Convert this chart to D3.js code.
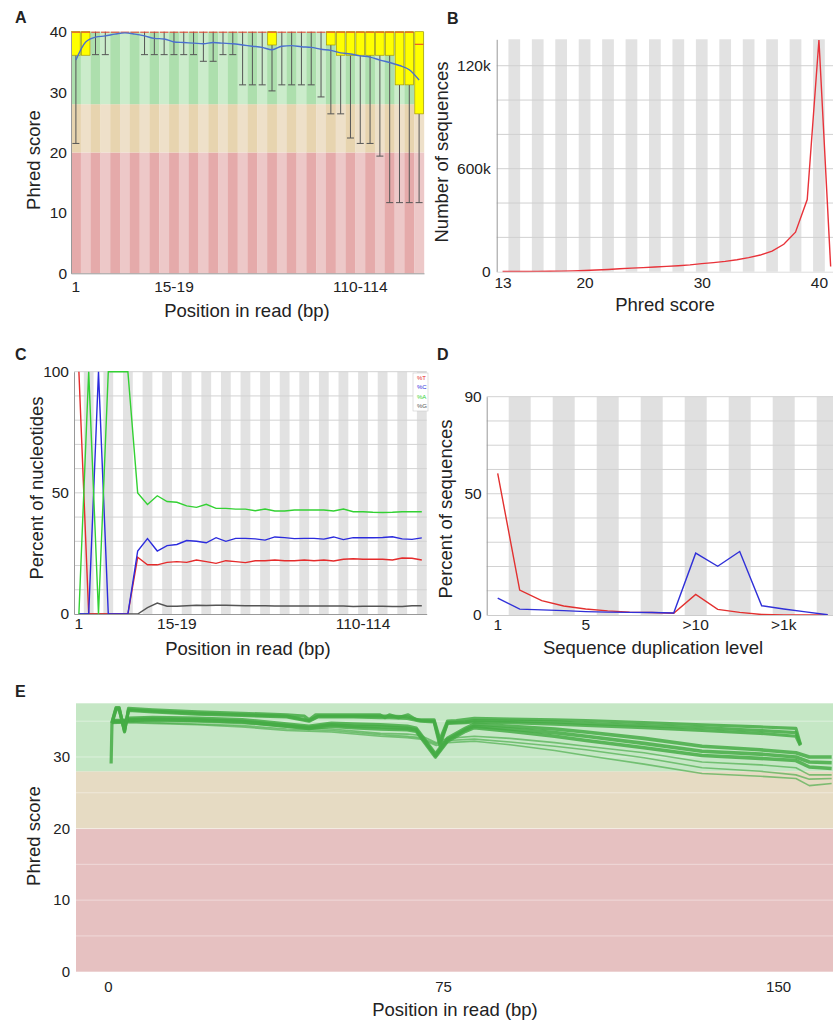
<!DOCTYPE html>
<html>
<head>
<meta charset="utf-8">
<script src="https://cdn.jsdelivr.net/npm/d3@7"></script>
<style>
body { margin: 0; background: #fff; }
text { font-family: "Liberation Sans", Arial, sans-serif; fill: #222; }
</style>
</head>
<body>
<svg id="fig" width="833" height="1022"></svg>
<script>
// ---------- data ----------
// A: per base quality (36 bins)
var posLabels = ["1", "2", "3", "4", "5", "6", "7", "8", "9", "10-14", "15-19", "20-24", "25-29",
    "30-34", "35-39", "40-44", "45-49", "50-54", "55-59", "60-64", "65-69", "70-74", "75-79",
    "80-84", "85-89", "90-94", "95-99", "100-104", "105-109", "110-114", "115-119", "120-124",
    "125-129", "130-134", "135-139", "140-144"];
var qLow = [21.5, 36.2, 36.2, 36.2, 40, 40, 40, 36.2, 36.2, 36.2, 36.2, 36.2, 36.2, 35.1, 35.1, 36.2,
    36.2, 31.2, 31.2, 31.2, 30.2, 31.2, 31.2, 31.2, 31.2, 29.2, 26.4, 26.4, 22.4, 21.5, 21.5, 19.4,
    11.7, 11.7, 11.7, 11.7];
var qQ1 = [36.1, 36.1, 40, 40, 40, 40, 40, 40, 40, 40, 40, 40, 40, 40, 40, 40, 40, 40, 40, 40, 37.8,
    40, 40, 40, 40, 40, 37.8, 36.1, 36.1, 36.1, 36.1, 36.1, 36.1, 31.2, 31.2, 26.4];
var qQ3 = [40, 40, 40, 40, 40, 40, 40, 40, 40, 40, 40, 40, 40, 40, 40, 40, 40, 40, 40, 40, 40, 40, 40,
    40, 40, 40, 40, 40, 40, 40, 40, 40, 40, 40, 40, 40];
var qMedian = [40, 40, 40, 40, 40, 40, 40, 40, 40, 40, 40, 40, 40, 40, 40, 40, 40, 40, 40, 40, 40, 40,
    40, 40, 40, 40, 40, 40, 40, 40, 40, 40, 40, 40, 40, 38];
var qMean = [35.3, 38.3, 39.1, 39.3, 39.6, 39.8, 39.6, 39.3, 38.9, 38.8, 38.3, 38.2, 38.1, 38.0, 38.2,
    38.1, 38.0, 37.8, 37.6, 37.4, 37.0, 37.6, 37.7, 37.5, 37.4, 37.1, 36.9, 36.5, 36.3, 36.0, 35.8,
    35.3, 34.9, 34.4, 33.7, 32.0];
var qZones = [
    { lo: 0, hi: 20, dark: "#e5aaaa", light: "#edc8c8" },
    { lo: 20, hi: 28, dark: "#e7d4af", light: "#eee0c9" },
    { lo: 28, hi: 40, dark: "#addfad", light: "#cbeccb" }
];
var aTickIdx = [0, 10, 29];

// B: per sequence quality
var bScores = [13, 14, 15, 16, 17, 18, 19, 20, 21, 22, 23, 24, 25, 26, 27, 28, 29, 30, 31, 32, 33, 34,
    35, 36, 37, 38, 39, 40, 41];
var bCounts = [100, 100, 150, 200, 250, 350, 500, 700, 950, 1300, 1700, 2100, 2400, 2700, 3100, 3500,
    4000, 4700, 5300, 6000, 7000, 8200, 9700, 12000, 16000, 23000, 42000, 135000, 3000];
var bYTicks = [0, 60000, 120000];
var bYText = ["0", "600k", "120k"];
var bXTicks = [13, 20, 30, 40];

// C: per base sequence content
var cT = [100, 0, 0, 0, 0, 0, 23.4, 20.3, 20.3, 21.3, 21.6, 21.3, 22.3, 21.6, 20.9, 22.0, 21.6, 21.2,
    22.0, 22.0, 22.3, 22.0, 22.0, 22.3, 22.0, 22.3, 21.9, 22.6, 22.8, 22.6, 22.6, 22.6, 22.3, 23.1, 23.0, 22.3];
var cC = [0, 0, 100, 0, 0, 0, 26.0, 31.1, 26.0, 28.2, 28.7, 30.3, 30.0, 29.4, 31.5, 30.0, 31.2, 31.2,
    31.0, 30.5, 31.8, 31.5, 31.1, 31.2, 31.2, 30.9, 31.8, 30.7, 31.5, 31.5, 31.5, 31.6, 31.9, 31.0, 30.8, 31.4];
var cA = [0, 100, 0, 100, 100, 100, 50.0, 45.2, 48.8, 46.4, 46.1, 44.6, 44.0, 45.3, 43.6, 43.6, 43.3,
    43.3, 42.6, 43.3, 42.5, 42.5, 42.9, 42.9, 42.9, 42.9, 42.5, 43.3, 42.2, 42.2, 42.0, 41.9, 42.0, 42.2, 42.2, 42.2];
var cG = [0, 0, 0, 0, 0, 0, 0, 2.6, 4.5, 3.2, 3.2, 3.4, 3.6, 3.5, 3.6, 3.6, 3.5, 3.4, 3.4, 3.4, 3.3,
    3.3, 3.3, 3.3, 3.3, 3.3, 3.3, 3.3, 3.1, 3.2, 3.2, 3.2, 3.1, 3.1, 3.4, 3.4];
var cNames = ["%T", "%C", "%A", "%G"];
var cColors = ["#e52b2b", "#2b2bdd", "#33d133", "#555555"];

// D: sequence duplication levels
var dLabels = ["1", "2", "3", "4", "5", "6", "7", "8", "9", ">10", ">50", ">100", ">500", ">1k", ">5k", ">10k"];
var dDedup = [58.4, 10.3, 5.9, 3.7, 2.5, 1.7, 1.2, 1.0, 0.7, 8.5, 2.3, 1.1, 0.2, 0.05, 0.05, 0.0];
var dTotal = [7.0, 2.4, 2.1, 1.8, 1.4, 1.2, 1.1, 1.0, 0.8, 25.5, 20.1, 26.2, 3.8, 2.5, 1.3, 0.1];
var dTickIdx = [0, 4, 9, 13];

// E: mean quality per position, several samples ([bp, phred])
var eU1 = [[0.7, 29.1], [0.9, 34.9], [1.8, 36.9], [2.5, 36.9], [3.7, 33.5], [4.6, 36.8], [10, 36.6], [20, 36.3],
    [30, 36.1], [40, 35.9], [44, 35.7], [45, 35.2], [46.5, 35.9], [55, 35.9], [60.8, 35.9], [62, 35.5],
    [63, 35.9], [65, 35.5], [67.2, 35.9], [69, 35.2], [73, 35.2], [74.3, 32.4], [76, 35.0], [78, 35.1],
    [82, 35.4], [90, 35.3], [100, 35.2], [107, 35.1], [120, 34.8], [133, 34.5], [146, 34.2], [154, 34.0], [155, 31.8]];
var eU3 = [[0.9, 34.8], [1.8, 36.8], [2.5, 36.8], [3.7, 33.6], [4.6, 36.6], [10, 36.4], [20, 36.1], [30, 35.9],
    [40, 35.7], [45, 35.1], [47, 35.7], [55, 35.7], [61, 35.7], [63, 35.7], [67, 35.6], [70, 35.1], [73, 35.0],
    [74.3, 32.0], [76, 34.8], [80, 34.9], [82, 35.1], [90, 35.0], [100, 34.9], [107, 34.7], [120, 34.4],
    [133, 34.1], [146, 33.7], [154, 33.4], [155, 31.7]];
var eU2 = [[0.9, 34.7], [1.8, 36.6], [2.5, 36.6], [3.7, 33.8], [4.6, 36.5], [10, 36.3], [20, 36.0], [30, 35.8],
    [40, 35.6], [45, 35.0], [47, 35.6], [55, 35.6], [61, 35.5], [63, 35.5], [67, 35.4], [70, 35.0], [73, 34.9],
    [74.3, 31.6], [76, 34.7], [80, 34.8], [82, 34.9], [90, 34.8], [100, 34.6], [107, 34.4], [120, 34.1],
    [133, 33.7], [146, 33.3], [154, 32.9], [155, 31.6]];
var eM1 = [[0.9, 35.1], [3.7, 35.1], [4.6, 35.4], [10, 35.5], [20, 35.4], [30, 35.2], [40, 34.6], [45, 34.3],
    [50, 34.7], [55, 34.6], [61, 34.5], [67, 34.3], [69, 34.0], [73.3, 30.4], [76, 32.6], [80, 34.0], [82, 34.6],
    [90, 34.3], [100, 33.9], [107, 33.5], [120, 32.6], [133, 31.5], [146, 31.0], [154, 30.6], [157, 30.0], [162, 30.0]];
var eM3 = [[0.9, 35.0], [3.7, 35.0], [4.6, 35.2], [10, 35.3], [20, 35.2], [30, 35.0], [40, 34.4], [45, 34.1],
    [50, 34.5], [55, 34.3], [61, 34.2], [67, 34.0], [69, 33.8], [73.3, 30.2], [76, 32.4], [80, 33.8], [82, 34.3],
    [90, 33.9], [100, 33.4], [107, 32.9], [120, 31.9], [133, 30.8], [146, 30.4], [154, 30.0], [157, 29.3], [162, 29.2]];
var eM2 = [[0.9, 34.9], [3.7, 34.9], [4.6, 35.1], [10, 35.2], [20, 35.1], [30, 34.9], [40, 34.3], [45, 34.0],
    [50, 34.3], [55, 34.1], [61, 33.9], [67, 33.8], [69, 33.6], [73.3, 30.0], [76, 32.2], [80, 33.6], [82, 34.1],
    [90, 33.6], [100, 32.9], [107, 32.3], [120, 31.3], [133, 30.2], [146, 29.8], [154, 29.5], [157, 28.6], [162, 28.4]];
var eL1 = [[0.9, 34.9], [4.6, 35.0], [10, 35.0], [20, 34.9], [30, 34.7], [40, 34.2], [50, 33.9], [61, 33.3],
    [67, 33.2], [70, 33.0], [73.5, 32.0], [76, 32.6], [82, 32.9], [90, 32.6], [100, 32.0], [107, 31.5],
    [120, 30.6], [133, 29.3], [146, 28.9], [154, 28.5], [157, 27.5], [162, 27.5]];
var eL2 = [[0.9, 34.8], [4.6, 34.9], [10, 34.8], [20, 34.6], [30, 34.4], [40, 33.9], [50, 33.7], [61, 33.1],
    [67, 32.9], [70, 32.7], [73.5, 31.8], [76, 32.3], [82, 32.5], [90, 32.1], [100, 31.5], [107, 31.0],
    [120, 29.9], [133, 28.5], [146, 28.0], [154, 27.5], [157, 26.9], [162, 27.0]];
var eL3 = [[0.9, 34.7], [4.6, 34.8], [10, 34.7], [20, 34.5], [30, 34.2], [40, 33.7], [50, 33.5], [61, 32.9],
    [67, 32.7], [70, 32.5], [73.5, 31.6], [76, 32.0], [82, 32.2], [90, 31.7], [100, 30.9], [107, 30.2],
    [120, 29.0], [133, 27.7], [146, 27.3], [154, 27.0], [157, 26.0], [162, 26.3]];
var eSeries = [eL3, eL2, eL1, eM2, eM3, eM1, eU2, eU3, eU1];
var eWidths = [1.6, 1.6, 1.6, 3.6, 3.6, 3.6, 3.2, 3.2, 3.2];
var eZones = [
    { lo: 0, hi: 20, fill: "#e6c1c1" },
    { lo: 20, hi: 28, fill: "#e6dbc3" },
    { lo: 28, hi: 37.5, fill: "#c5e7c5" }
];
var eXTicks = [0, 75, 150];
var eYTicks = [0, 10, 20, 30];

// ---------- drawing ----------
var svg = d3.select("#fig");
var TICK = 15.5, TITLE = 18.5;

function panelLabel(s, x, y) {
    svg.append("text").text(s).attr("x", x).attr("y", y)
        .style("font-weight", "bold").style("font-size", "16px");
}
function yTitle(s, x, y) {
    svg.append("text").text(s)
        .attr("transform", "translate(" + x + "," + y + ") rotate(-90)")
        .attr("text-anchor", "middle").style("font-size", TITLE + "px");
}
function xTitle(s, x, y) {
    svg.append("text").text(s).attr("x", x).attr("y", y)
        .attr("text-anchor", "middle").style("font-size", TITLE + "px");
}
function styleAxis(g, size) {
    g.selectAll("text").style("font-size", size + "px").attr("fill", "#222")
        .style("font-family", '"Liberation Sans", Arial, sans-serif');
    g.select(".domain").attr("stroke", "#999");
}

// ===== A =====
var xA = d3.scaleBand().domain(d3.range(posLabels.length)).range([71, 424]);
var yA = d3.scaleLinear().domain([0, 40]).range([273.3, 31.7]);
var gA = svg.append("g");
qZones.forEach(function (z) {
    gA.append("g").selectAll("rect").data(posLabels).enter().append("rect")
        .attr("x", function (d, i) { return xA(i); })
        .attr("width", xA.bandwidth() + 0.2)
        .attr("y", yA(z.hi))
        .attr("height", yA(z.lo) - yA(z.hi))
        .attr("fill", function (d, i) { return i % 2 ? z.light : z.dark; });
});
var bwA = xA.bandwidth();
var whisk = d3.range(posLabels.length).filter(function (i) { return qLow[i] < qQ1[i]; });
gA.append("g").selectAll("line").data(whisk).enter().append("line")
    .attr("x1", function (i) { return xA(i) + bwA / 2; })
    .attr("x2", function (i) { return xA(i) + bwA / 2; })
    .attr("y1", function (i) { return yA(qQ1[i]); })
    .attr("y2", function (i) { return yA(qLow[i]); })
    .attr("stroke", "#555").attr("stroke-width", 1);
gA.append("g").selectAll("line").data(whisk).enter().append("line")
    .attr("x1", function (i) { return xA(i) + bwA / 2 - 3.5; })
    .attr("x2", function (i) { return xA(i) + bwA / 2 + 3.5; })
    .attr("y1", function (i) { return yA(qLow[i]); })
    .attr("y2", function (i) { return yA(qLow[i]); })
    .attr("stroke", "#555").attr("stroke-width", 1);
var boxes = d3.range(posLabels.length).filter(function (i) { return qQ1[i] < qQ3[i]; });
gA.append("g").selectAll("rect").data(boxes).enter().append("rect")
    .attr("x", function (i) { return xA(i) + 0.6; })
    .attr("width", bwA - 1.2)
    .attr("y", function (i) { return yA(qQ3[i]); })
    .attr("height", function (i) { return yA(qQ1[i]) - yA(qQ3[i]); })
    .attr("fill", "#ffff00").attr("stroke", "#a89b00").attr("stroke-width", 0.7);
gA.append("g").selectAll("line").data(qMedian).enter().append("line")
    .attr("x1", function (d, i) { return xA(i) + 0.6; })
    .attr("x2", function (d, i) { return xA(i) + bwA - 0.6; })
    .attr("y1", function (d) { return yA(d) + 0.5; })
    .attr("y2", function (d) { return yA(d) + 0.5; })
    .attr("stroke", "#e83a2a").attr("stroke-width", 1);
gA.append("path").datum(qMean)
    .attr("fill", "none").attr("stroke", "#4a6fd0").attr("stroke-width", 1.4)
    .attr("d", d3.line()
        .x(function (d, i) { return xA(i) + bwA / 2; })
        .y(function (d) { return yA(d); })
        .curve(d3.curveMonotoneX));
var axA = gA.append("g").attr("transform", "translate(71,0)")
    .call(d3.axisLeft(yA).tickValues([0, 10, 20, 30, 40]).tickSize(0).tickPadding(4));
styleAxis(axA, TICK);
var axAx = gA.append("g").attr("transform", "translate(0,273.3)")
    .call(d3.axisBottom(xA).tickValues(aTickIdx).tickFormat(function (i) { return posLabels[i]; })
        .tickSize(0).tickPadding(8));
styleAxis(axAx, TICK);
panelLabel("A", 15, 23);
yTitle("Phred score", 40, 160);
xTitle("Position in read (bp)", 247, 317);

// ===== B =====
var xB = d3.scaleLinear().domain([12.5, 41.2]).range([496.7, 833]);
var yB = d3.scaleLinear().domain([0, 135400]).range([271.7, 39.3]);
var gB = svg.append("g");
gB.append("g").selectAll("rect").data(bScores.filter(function (s) { return s % 2 === 0; }))
    .enter().append("rect")
    .attr("x", function (s) { return xB(s - 0.5); })
    .attr("width", function (s) { return xB(s + 0.5) - xB(s - 0.5); })
    .attr("y", yB(135400)).attr("height", yB(0) - yB(135400))
    .attr("fill", "#e2e2e2");
gB.append("g").selectAll("line").data(yB.ticks(7).filter(function (v) { return v > 0; }))
    .enter().append("line")
    .attr("x1", xB(12.5)).attr("x2", xB(41.2))
    .attr("y1", function (v) { return yB(v); }).attr("y2", function (v) { return yB(v); })
    .attr("stroke", "#d0d0d0").attr("stroke-width", 1);
gB.append("path").datum(bCounts)
    .attr("fill", "none").attr("stroke", "#e8333a").attr("stroke-width", 1.4)
    .attr("d", d3.line()
        .x(function (d, i) { return xB(bScores[i]); })
        .y(function (d) { return yB(d); }));
var axB = gB.append("g").attr("transform", "translate(496.7,0)")
    .call(d3.axisLeft(yB).tickValues(bYTicks).tickFormat(function (v, i) { return bYText[i]; })
        .tickSize(0).tickPadding(6));
styleAxis(axB, TICK);
var axBx = gB.append("g").attr("transform", "translate(0,271.7)")
    .call(d3.axisBottom(xB).tickValues(bXTicks).tickSize(0).tickPadding(5));
styleAxis(axBx, TICK);
axBx.select(".domain").attr("stroke", "#ddd");
panelLabel("B", 447, 24);
yTitle("Number of sequences", 448, 152);
xTitle("Phred score", 665, 311);

// ===== C =====
var xC = d3.scaleBand().domain(d3.range(posLabels.length)).range([74, 426.7]);
var yC = d3.scaleLinear().domain([0, 100]).range([614, 371.7]);
var bwC = xC.bandwidth();
var gC = svg.append("g");
gC.append("g").selectAll("rect").data(d3.range(posLabels.length).filter(function (i) { return i % 2 === 1; }))
    .enter().append("rect")
    .attr("x", function (i) { return xC(i); }).attr("width", bwC)
    .attr("y", yC(100)).attr("height", yC(0) - yC(100))
    .attr("fill", "#e2e2e2");
gC.append("g").selectAll("line").data(d3.range(10, 101, 10)).enter().append("line")
    .attr("x1", 74).attr("x2", 426.7)
    .attr("y1", function (v) { return yC(v); }).attr("y2", function (v) { return yC(v); })
    .attr("stroke", "#d2d2d2").attr("stroke-width", 1);
[cG, cT, cC, cA].forEach(function (ser) {
    var col = cColors[[cT, cC, cA, cG].indexOf(ser)];
    gC.append("path").datum(ser)
        .attr("fill", "none").attr("stroke", col).attr("stroke-width", 1.4)
        .attr("d", d3.line()
            .x(function (d, i) { return xC(i) + bwC / 2; })
            .y(function (d) { return yC(d); }));
});
var axC = gC.append("g").attr("transform", "translate(74,0)")
    .call(d3.axisLeft(yC).tickValues([0, 50, 100]).tickSize(0).tickPadding(5));
styleAxis(axC, TICK);
var axCx = gC.append("g").attr("transform", "translate(0,614)")
    .call(d3.axisBottom(xC).tickValues(aTickIdx).tickFormat(function (i) { return posLabels[i]; })
        .tickSize(0).tickPadding(4));
styleAxis(axCx, TICK);
// legend
var leg = gC.append("g").attr("transform", "translate(413,373)");
leg.append("rect").attr("width", 15).attr("height", 38)
    .attr("fill", "#fff").attr("stroke", "#ccc").attr("stroke-width", 0.6);
leg.selectAll("text").data(cNames).enter().append("text")
    .text(function (d) { return d; })
    .attr("x", 4).attr("y", function (d, i) { return 7 + i * 9.4; })
    .style("font-size", "6px")
    .style("fill", function (d, i) { return cColors[i]; });
panelLabel("C", 15, 360);
yTitle("Percent of nucleotides", 43, 488);
xTitle("Position in read (bp)", 248, 655);

// ===== D =====
var xD = d3.scaleBand().domain(d3.range(dLabels.length)).range([486.7, 838.7]);
var yD = d3.scaleLinear().domain([0, 90]).range([615, 396.7]);
var bwD = xD.bandwidth();
var gD = svg.append("g");
gD.append("g").selectAll("rect").data(d3.range(dLabels.length).filter(function (i) { return i % 2 === 1; }))
    .enter().append("rect")
    .attr("x", function (i) { return xD(i); }).attr("width", bwD)
    .attr("y", yD(90)).attr("height", yD(0) - yD(90))
    .attr("fill", "#e0e0e0");
gD.append("g").selectAll("line").data(d3.range(10, 91, 10)).enter().append("line")
    .attr("x1", 486.7).attr("x2", 838.7)
    .attr("y1", function (v) { return yD(v); }).attr("y2", function (v) { return yD(v); })
    .attr("stroke", "#d2d2d2").attr("stroke-width", 1);
[dDedup, dTotal].forEach(function (ser, k) {
    gD.append("path").datum(ser)
        .attr("fill", "none").attr("stroke", k ? "#3030d8" : "#e2302f").attr("stroke-width", 1.4)
        .attr("d", d3.line()
            .x(function (d, i) { return xD(i) + bwD / 2; })
            .y(function (d) { return yD(d); }));
});
var axD = gD.append("g").attr("transform", "translate(486.7,0)")
    .call(d3.axisLeft(yD).tickValues([0, 50, 90]).tickSize(0).tickPadding(5));
styleAxis(axD, TICK);
var axDx = gD.append("g").attr("transform", "translate(0,615)")
    .call(d3.axisBottom(xD).tickValues(dTickIdx).tickFormat(function (i) { return dLabels[i]; })
        .tickSize(0).tickPadding(4));
styleAxis(axDx, TICK);
axDx.select(".domain").attr("stroke", "#ccc");
panelLabel("D", 437, 360);
yTitle("Percent of sequences", 452, 509);
xTitle("Sequence duplication level", 653, 654);

// ===== E =====
var xE = d3.scaleLinear().domain([-7.16, 162.3]).range([76, 833]);
var yE = d3.scaleLinear().domain([0, 37.5]).range([971.7, 703.3]);
var gE = svg.append("g");
gE.append("g").selectAll("rect").data(eZones).enter().append("rect")
    .attr("x", 76).attr("width", 833 - 76)
    .attr("y", function (z) { return yE(z.hi); })
    .attr("height", function (z) { return yE(z.lo) - yE(z.hi); })
    .attr("fill", function (z) { return z.fill; });
gE.append("g").selectAll("line").data(d3.range(5, 36, 5)).enter().append("line")
    .attr("x1", 76).attr("x2", 833)
    .attr("y1", function (v) { return yE(v); }).attr("y2", function (v) { return yE(v); })
    .attr("stroke", "#ffffff").attr("stroke-opacity", 0.4).attr("stroke-width", 1);
eSeries.forEach(function (ser, k) {
    gE.append("path").datum(ser)
        .attr("fill", "none").attr("stroke", "#45ab45")
        .attr("stroke-opacity", eWidths[k] > 2 ? 0.85 : 0.65)
        .attr("stroke-width", eWidths[k]).attr("stroke-linejoin", "round")
        .attr("d", d3.line()
            .x(function (d) { return xE(d[0]); })
            .y(function (d) { return yE(d[1]); }));
});
var axE = gE.append("g").attr("transform", "translate(76,0)")
    .call(d3.axisLeft(yE).tickValues(eYTicks).tickSize(0).tickPadding(6));
styleAxis(axE, 15);
axE.select(".domain").remove();
var axEx = gE.append("g").attr("transform", "translate(0,971.7)")
    .call(d3.axisBottom(xE).tickValues(eXTicks).tickSize(0).tickPadding(10));
styleAxis(axEx, 15);
axEx.select(".domain").remove();
panelLabel("E", 15, 697);
yTitle("Phred score", 40, 836);
xTitle("Position in read (bp)", 455, 1016);
</script>
</body>
</html>
